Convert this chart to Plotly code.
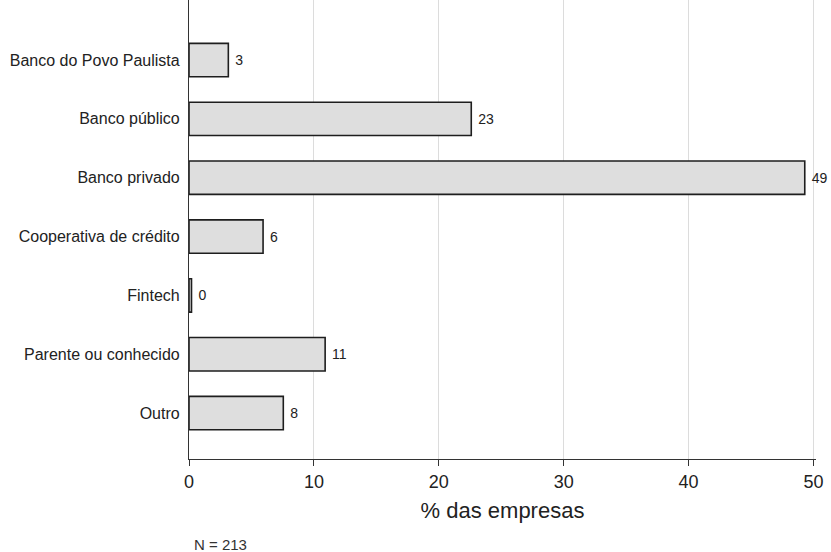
import plotly.graph_objects as go

categories = ["Banco do Povo Paulista", "Banco público", "Banco privado",
              "Cooperativa de crédito", "Fintech", "Parente ou conhecido", "Outro"]
values = [3.15, 22.6, 49.3, 5.93, 0.2, 10.9, 7.55]
labels = ["3", "23", "49", "6", "0", "11", "8"]
x_ticks = [0, 10, 20, 30, 40, 50]

fig = go.Figure(go.Bar(
    y=categories, x=values, orientation="h",
    width=0.567,
    marker=dict(color="#dedede", line=dict(color="#1e1e1e", width=1.6)),
    text=[" " + t for t in labels], textposition="outside",
    textfont=dict(family="Liberation Sans, Arial", size=14, color="#222"),
    cliponaxis=False, hoverinfo="skip",
))

fig.update_layout(
    width=831, height=552,
    margin=dict(l=189, r=15, t=0, b=93),
    paper_bgcolor="white", plot_bgcolor="white",
    font=dict(family="Liberation Sans, Arial", color="#222"),
    showlegend=False,
    xaxis=dict(range=[0, 50.2], tickvals=x_ticks, ticktext=[str(v) for v in x_ticks],
               showgrid=True, gridcolor="#dcdcdc", gridwidth=1, zeroline=False,
               showline=True, linecolor="#333", linewidth=1.2,
               ticks="outside", ticklen=6, tickcolor="#333",
               tickfont=dict(size=18), automargin=False,
               title=dict(text="% das empresas", font=dict(size=22), standoff=11)),
    yaxis=dict(categoryorder="array", categoryarray=categories,
               range=[6.78, -1.02], showgrid=False, zeroline=False,
               showline=True, linecolor="#333", linewidth=1.2,
               ticks="", ticklabelstandoff=5, tickfont=dict(size=16), automargin=False),
    annotations=[dict(text="N = 213", x=0, xref="paper", xshift=3,
                      y=-0.187, yref="paper",
                      xanchor="left", yanchor="middle", showarrow=False,
                      font=dict(size=15, color="#333"))],
)

fig.write_html("out.html", config={"displayModeBar": False},
               post_script="document.body.style.margin='0';")
